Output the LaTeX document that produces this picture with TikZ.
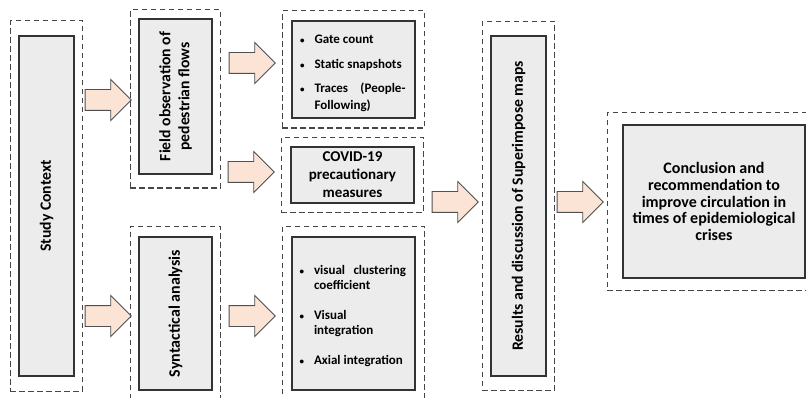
\documentclass[tikz,border=0pt]{standalone}
\usepackage{fontspec}
\setmainfont{Carlito}
\usepackage{enumitem}
\usetikzlibrary{positioning,fit,shapes.arrows,calc}
\definecolor{boxgray}{RGB}{236,236,236}
\definecolor{arrfill}{RGB}{251,228,213}
\definecolor{arrline}{RGB}{80,80,80}
\definecolor{dashgray}{RGB}{70,70,70}
\newcommand{\blist}[2]{\begin{itemize}[nosep,leftmargin=13pt,labelsep=10pt,labelwidth=3pt,
	label={\fontsize{9}{9}\selectfont\textbullet},itemsep=#1]#2\end{itemize}}
\newcommand{\fsz}[2]{\bfseries\fontsize{#1}{#2}\selectfont}

\begin{document}
\begin{tikzpicture}[x=1pt,y=-1pt,
	every node/.style={font=\fsz{15.7}{19}},
	blk/.style={draw=black!80,line width=1.2pt,fill=boxgray,inner sep=0pt,align=center},
	outer/.style={draw=dashgray,line width=1.2pt,dash pattern=on 5.5pt off 3.5pt,inner xsep=8pt},
	barrow/.style={single arrow,draw=arrline,line width=0.9pt,fill=arrfill,inner xsep=0pt,inner ysep=10pt,
		minimum height=46pt,minimum width=40pt,single arrow head extend=10pt,anchor=tip}]
	\useasboundingbox (0,0) rectangle (806,398);
	% inner boxes
	\node[blk,rotate=90,minimum width=340pt,minimum height=55pt] (study) at (46.5,206) {Study Context};
	\node[blk,rotate=90,minimum width=155pt,minimum height=73pt] (field) at (175.5,96.5) {Field observation of\\pedestrian flows};
	\node[blk,rotate=90,minimum width=153pt,minimum height=73pt,font=\fsz{16}{19}] (synt) at (175.5,313.5) {Syntactical analysis};
	\node[blk,minimum width=123pt,minimum height=97pt,text width=104pt,align=justify,font=\fsz{13}{17}] (obs) at (353.5,69.5)
	{\blist{7.5pt}{\item Gate count \item Static snapshots \item \makebox[\linewidth][s]{Traces (People-}\\Following)}};
	\node[blk,minimum width=123pt,minimum height=56pt,font=\fsz{15}{18}] (covid) at (352.5,175) {COVID-19\\precautionary\\measures};
	\node[blk,minimum width=123pt,minimum height=153pt,text width=105pt,align=justify,font=\fsz{13}{15}] (space) at (353.5,313.5)
	{\blist{15pt}{\item \makebox[\linewidth][s]{visual clustering}\\coefficient \item Visual\\integration \item Axial integration}};
	\node[blk,rotate=90,minimum width=340pt,minimum height=55pt] (res) at (518.5,206) {Results and discussion of Superimpose maps};
	\node[blk,minimum width=182pt,minimum height=153pt,font=\fsz{16}{16.7}] (concl) at (714,201.5) {Conclusion and\\recommendation to\\improve circulation in\\times of epidemiological\\crises};
	% dashed frames
	\node[outer,fit=(study),inner ysep=14.5pt] (study_o) {};
	\node[outer,fit=(field),inner ysep=11pt,yshift=-2.5pt] (field_o) {};
	\node[outer,fit=(synt),inner ysep=10pt] (synt_o) {};
	\node[outer,fit=(obs),inner xsep=9pt,inner ysep=9.5pt] (obs_o) {};
	\node[outer,fit=(covid),inner xsep=9pt,inner ysep=9pt] (covid_o) {};
	\node[outer,fit=(space),inner xsep=9pt,inner ysep=10pt] (space_o) {};
	\node[outer,fit=(res),inner ysep=14pt] (res_o) {};
	\node[outer,fit=(concl),inner xsep=15pt,inner ysep=12pt] (concl_o) {};
	% block arrows
	\node[barrow,xshift=2pt] (a_1) at (field_o.west |- 0,100) {};
	\node[barrow,xshift=2pt] (a_2) at (synt_o.west |- 0,316) {};
	\node[barrow,xshift=-6pt] (a_3) at (obs_o.west |- 0,63) {};
	\node[barrow,xshift=-6pt] (a_4) at (covid_o.west |- 0,172) {};
	\node[barrow,xshift=-6pt] (a_5) at (space_o.west |- 0,316) {};
	\node[barrow,xshift=-3pt] (a_6) at (res_o.west |- 0,202) {};
	\node[barrow,xshift=-3pt] (a_7) at (concl_o.west |- 0,202) {};
\end{tikzpicture}
\end{document}
